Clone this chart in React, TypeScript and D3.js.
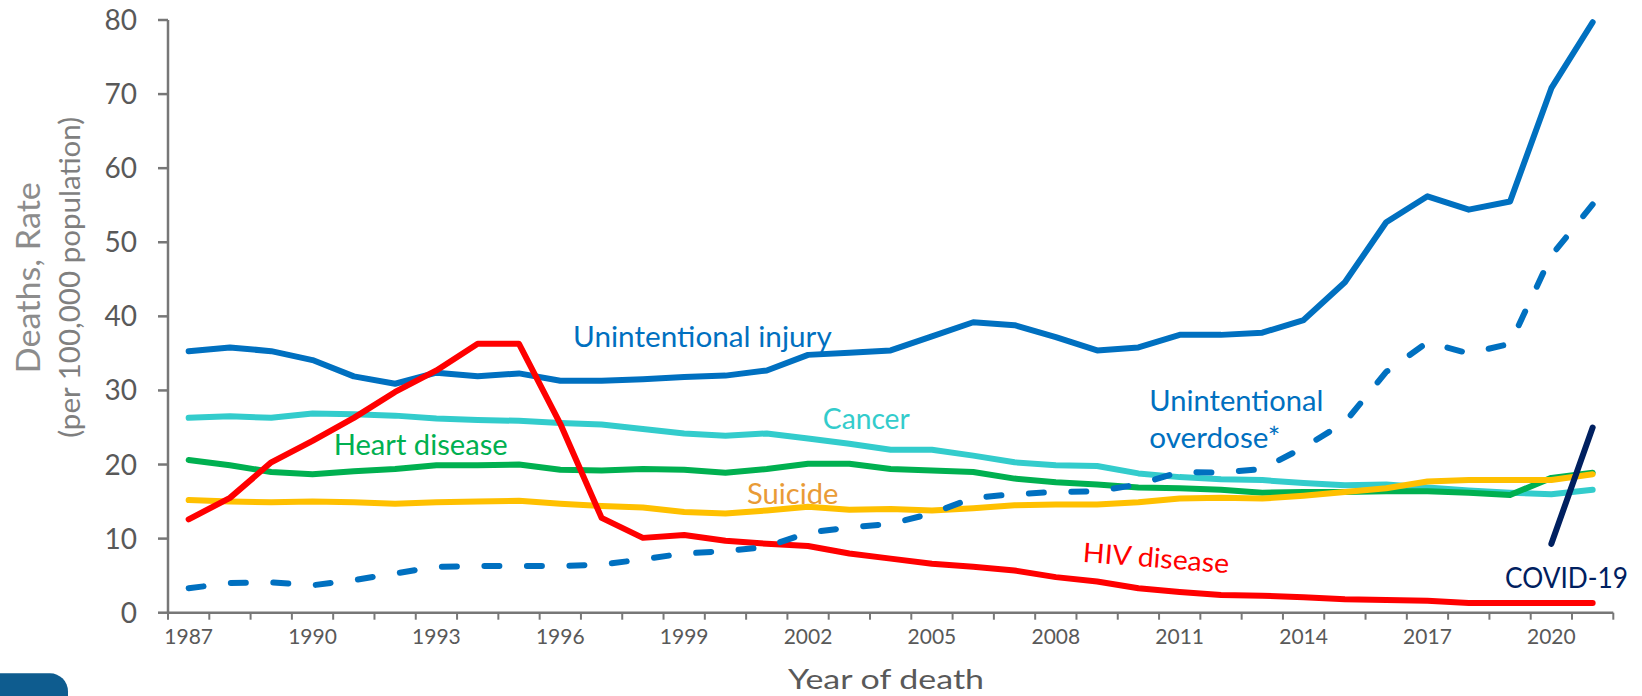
import React from "react";
import * as d3 from "d3";

const years = d3.range(1987, 2022);
const xTickYears = [1987, 1990, 1993, 1996, 1999, 2002, 2005, 2008, 2011, 2014, 2017, 2020];
const yTicks = [0, 10, 20, 30, 40, 50, 60, 70, 80];

const injury = [35.3, 35.8, 35.3, 34.1, 31.9, 30.9, 32.4, 31.9, 32.3, 31.3, 31.3, 31.5, 31.8, 32.0, 32.7, 34.8, 35.1, 35.4, 37.3, 39.2, 38.8, 37.2, 35.4, 35.8, 37.5, 37.5, 37.8, 39.5, 44.6, 52.7, 56.2, 54.4, 55.5, 70.8, 79.7];
const overdose = [3.3, 4.0, 4.1, 3.7, 4.4, 5.3, 6.2, 6.3, 6.3, 6.3, 6.5, 7.2, 8.0, 8.3, 8.9, 10.8, 11.5, 12.0, 13.4, 15.5, 16.0, 16.3, 16.4, 17.3, 19.0, 18.9, 19.4, 22.3, 25.7, 32.5, 36.5, 35.0, 36.3, 48.2, 55.1];
const cancer = [26.3, 26.5, 26.3, 26.9, 26.8, 26.6, 26.2, 26.0, 25.9, 25.6, 25.4, 24.8, 24.2, 23.9, 24.2, 23.5, 22.8, 22.0, 22.0, 21.2, 20.3, 19.9, 19.8, 18.8, 18.3, 18.0, 17.9, 17.5, 17.2, 17.3, 16.9, 16.5, 16.2, 16.0, 16.6];
const heart = [20.6, 19.9, 19.0, 18.7, 19.1, 19.4, 19.9, 19.9, 20.0, 19.3, 19.2, 19.4, 19.3, 18.9, 19.4, 20.1, 20.1, 19.4, 19.2, 19.0, 18.1, 17.6, 17.3, 16.9, 16.8, 16.6, 16.2, 16.3, 16.3, 16.4, 16.4, 16.2, 15.9, 18.2, 18.9];
const suicide = [15.2, 15.0, 14.9, 15.0, 14.9, 14.7, 14.9, 15.0, 15.1, 14.7, 14.4, 14.2, 13.6, 13.4, 13.8, 14.3, 13.9, 14.0, 13.8, 14.1, 14.5, 14.6, 14.6, 14.9, 15.4, 15.5, 15.4, 15.8, 16.3, 16.8, 17.7, 17.9, 17.9, 17.9, 18.7];
const hiv = [12.6, 15.5, 20.3, 23.2, 26.3, 29.8, 32.7, 36.3, 36.3, 25.5, 12.8, 10.1, 10.5, 9.7, 9.3, 9.0, 8.0, 7.3, 6.6, 6.2, 5.7, 4.8, 4.2, 3.3, 2.8, 2.4, 2.3, 2.1, 1.8, 1.7, 1.6, 1.3, 1.3, 1.3, 1.3];
const covidYears = [2020, 2021];
const covid = [9.3, 25.0];

const FONT = "Lato, 'Open Sans', sans-serif";

export default function App() {
  const x = d3.scaleBand<number>().domain(years).range([168, 1613.3]).padding(0);
  const y = d3.scaleLinear().domain([0, 80]).range([612.7, 20]);
  const cx = (yr: number) => (x(yr) as number) + x.bandwidth() / 2;

  const mk = (vals: number[], yrs: number[] = years) =>
    d3
      .line<number>()
      .x((_, i) => cx(yrs[i]))
      .y((v) => y(v))(vals) as string;

  // fit dash pattern so the line starts and ends with a dash
  const pts = overdose.map((v, i) => [cx(years[i]), y(v)]);
  let L = 0;
  for (let i = 1; i < pts.length; i++) L += Math.hypot(pts[i][0] - pts[i - 1][0], pts[i][1] - pts[i - 1][1]);
  const dashLen = 15;
  const n = Math.round((L - dashLen) / 43);
  const period = (L - dashLen) / n;
  const dashArr = `${dashLen} ${period - dashLen}`;

  const series = [
    { vals: cancer, color: "#33CCCC" },
    { vals: heart, color: "#00B050" },
    { vals: suicide, color: "#FFC000" },
    { vals: injury, color: "#0070C0" },
    { vals: hiv, color: "#FF0000" },
    { vals: overdose, color: "#0070C0", dash: dashArr },
  ];

  const edges = years.map((yr) => x(yr) as number).concat([1613.3]);
  const axisColor = "#777777";

  return (
    <svg
      width={1642}
      height={696}
      style={{ position: "absolute", left: 0, top: 0, background: "#fff" }}
      fontFamily={FONT}
    >
      <rect x={0} y={0} width={1642} height={696} fill="#fff" />
      {/* axes */}
      <line x1={168} x2={168} y1={y(80)} y2={y(0)} stroke={axisColor} strokeWidth={2.5} />
      <line x1={168} x2={1613.3} y1={y(0)} y2={y(0)} stroke={axisColor} strokeWidth={2.5} />
      {yTicks.map((t) => (
        <g key={t}>
          <line x1={158} x2={168} y1={y(t)} y2={y(t)} stroke={axisColor} strokeWidth={2.5} />
          <text x={137} y={y(t) + 10} textAnchor="end" fontSize={28} fill="#595959">
            {t}
          </text>
        </g>
      ))}
      {edges.map((e, i) => (
        <line key={i} x1={e} x2={e} y1={y(0)} y2={y(0) + 7} stroke={axisColor} strokeWidth={2} />
      ))}
      {xTickYears.map((yr) => (
        <text key={yr} x={cx(yr)} y={644.3} textAnchor="middle" fontSize={21} fill="#595959">
          {yr}
        </text>
      ))}
      <text x={886} y={688.7} textAnchor="middle" fontSize={27} fill="#595959" textLength={196} lengthAdjust="spacingAndGlyphs">
        Year of death
      </text>
      <text transform="translate(40,277.7) rotate(-90)" textAnchor="middle" fontSize={33} fill="#8C8C8C" textLength={191} lengthAdjust="spacingAndGlyphs">
        Deaths, Rate
      </text>
      <text transform="translate(80,277.3) rotate(-90)" textAnchor="middle" fontSize={28} fill="#7F7F7F" textLength={321} lengthAdjust="spacingAndGlyphs">
        (per 100,000 population)
      </text>

      {/* series */}
      {series.map((s, i) => (
        <path
          key={i}
          d={mk(s.vals)}
          fill="none"
          stroke={s.color}
          strokeWidth={6}
          strokeLinejoin="round"
          strokeLinecap="round"
          strokeDasharray={s.dash}
        />
      ))}
      <path d={mk(covid, covidYears)} fill="none" stroke="#002060" strokeWidth={6} strokeLinecap="round" />

      {/* labels */}
      <text x={573} y={346.7} fontSize={28} fill="#0070C0" textLength={258.7} lengthAdjust="spacingAndGlyphs">
        Unintentional injury
      </text>
      <text x={822.8} y={429.3} fontSize={28} fill="#33CCCC" textLength={87} lengthAdjust="spacingAndGlyphs">
        Cancer
      </text>
      <text x={333.7} y={455} fontSize={28} fill="#00B050" textLength={174} lengthAdjust="spacingAndGlyphs">
        Heart disease
      </text>
      <text x={746.9} y={504.3} fontSize={28} fill="#E99B36" textLength={91.5} lengthAdjust="spacingAndGlyphs">
        Suicide
      </text>
      <text x={1149.3} y={410.7} fontSize={28} fill="#0070C0" textLength={174} lengthAdjust="spacingAndGlyphs">
        Unintentional
      </text>
      <text x={1149.3} y={448.3} fontSize={28} fill="#0070C0" textLength={131} lengthAdjust="spacingAndGlyphs">
        overdose*
      </text>
      <text transform="translate(1082.3,561.7) rotate(4.5)" fontSize={27} fill="#FF0000" textLength={146.5} lengthAdjust="spacingAndGlyphs">
        HIV disease
      </text>
      <text x={1505} y={588.3} fontSize={28} fill="#002060" textLength={123} lengthAdjust="spacingAndGlyphs">
        COVID-19
      </text>

      {/* corner tab */}
      <path d="M0,673.3 H50 A18,18 0 0 1 68,691.3 V696 H0 Z" fill="#0E5C8F" />
    </svg>
  );
}
